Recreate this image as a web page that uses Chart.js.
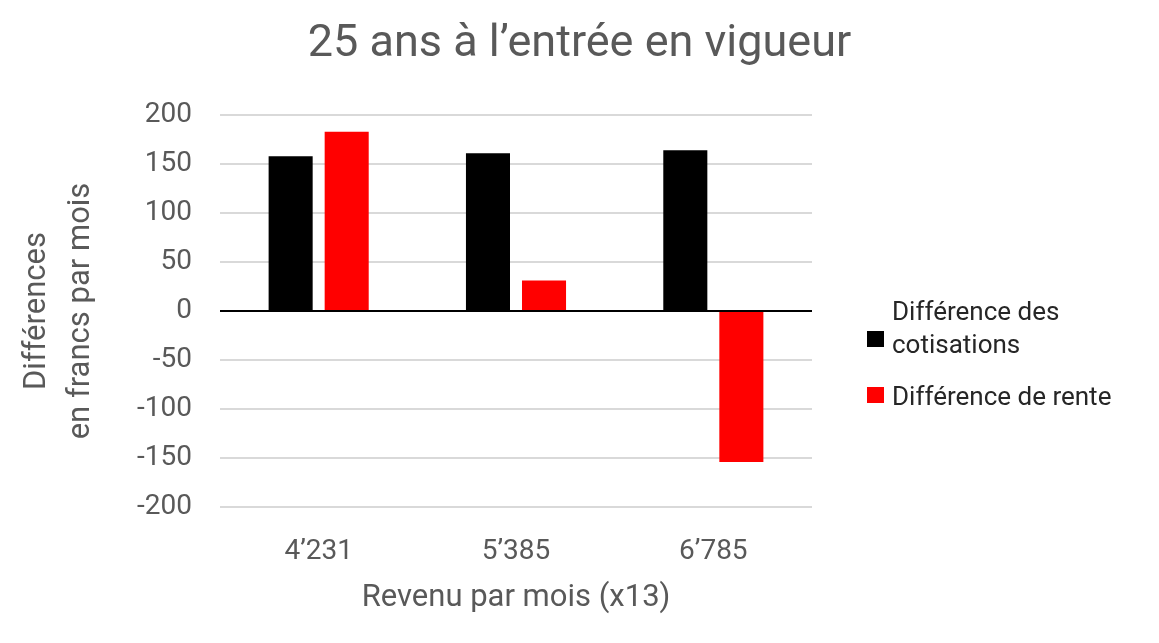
<!DOCTYPE html>
<html>
<head>
<meta charset="utf-8">
<script src="https://cdn.jsdelivr.net/npm/chart.js@4"></script>
<style>
  html, body { margin: 0; padding: 0; background: #fff; }
  #wrap { position: relative; width: 1159px; height: 643px; }
  .item { position: absolute; left: 867px; padding-left: 25px; font-family: Roboto, sans-serif; font-size: 26px; line-height: 33px; color: #262626; white-space: nowrap; }
  .swatch { position: absolute; left: 0; width: 17px; height: 16px; }
</style>
</head>
<body>
<div id="wrap">
  <canvas id="chart" width="1159" height="643"></canvas>
</div>
<script>
const categories = ['4\u2019231', '5\u2019385', '6\u2019785'];
const cotisations = [158, 161, 164];
const rente = [183, 31, -154];
const seriesNames = [['Différence des', 'cotisations'], ['Différence de rente']];
const seriesColors = ['#000000', '#ff0000'];
const yMin = -200, yMax = 200, yStep = 50;

const GREY = '#595959';
const FONT = 'Roboto, sans-serif';

const chart = new Chart(document.getElementById('chart'), {
  type: 'bar',
  data: {
    labels: categories,
    datasets: [
      { label: seriesNames[0].join(' '), data: cotisations, backgroundColor: seriesColors[0] },
      { label: seriesNames[1].join(' '), data: rente, backgroundColor: seriesColors[1] }
    ]
  },
  options: {
    responsive: false,
    animation: false,
    categoryPercentage: 0.568,
    barPercentage: 0.786,
    plugins: {
      legend: { display: false },
      tooltip: { enabled: false },
      title: {
        display: true,
        text: '25 ans à l\u2019entrée en vigueur',
        color: GREY,
        font: { family: FONT, size: 45, weight: 'normal', lineHeight: 1.2 },
        padding: { top: 18, bottom: 43 }
      }
    },
    scales: {
      x: {
        grid: { display: false },
        border: { display: false },
        ticks: { color: GREY, font: { family: FONT, size: 28 }, padding: 20 },
        title: {
          display: true,
          text: 'Revenu par mois (x13)',
          color: GREY,
          font: { family: FONT, size: 31, lineHeight: 1.2 },
          padding: { top: 0, bottom: 26 }
        },
        afterFit: s => { s.height = 136; }
      },
      y: {
        min: yMin,
        max: yMax,
        border: { display: false },
        grid: {
          drawTicks: false,
          lineWidth: 2,
          color: c => (c.tick && c.tick.value === 0 ? '#000000' : '#d9d9d9')
        },
        ticks: { stepSize: yStep, color: GREY, font: { family: FONT, size: 28 }, padding: 28 },
        title: {
          display: true,
          text: ['Différences', 'en francs par mois'],
          color: GREY,
          font: { family: FONT, size: 31, lineHeight: 1.42 },
          padding: { top: 15, bottom: 0 }
        },
        afterFit: s => { s.width = 220; }
      },
      // empty right-hand axis that reserves the legend column, so the title stays centred on the page
      pad: {
        type: 'linear',
        position: 'right',
        grid: { display: false },
        border: { display: false },
        ticks: { display: false },
        afterFit: s => { s.width = 347; }
      }
    }
  }
});

// legend, wrapped like the original
const wrap = document.getElementById('wrap');
const itemTops = [294.6, 379.6];
const swatchTops = [36.4, 7.4];
seriesNames.forEach((lines, i) => {
  const item = document.createElement('div');
  item.className = 'item';
  item.style.top = itemTops[i] + 'px';
  item.innerHTML = '<span class="swatch" style="top:' + swatchTops[i] + 'px;background:' + seriesColors[i] + '"></span>' + lines.join('<br>');
  wrap.appendChild(item);
});
</script>
</body>
</html>
